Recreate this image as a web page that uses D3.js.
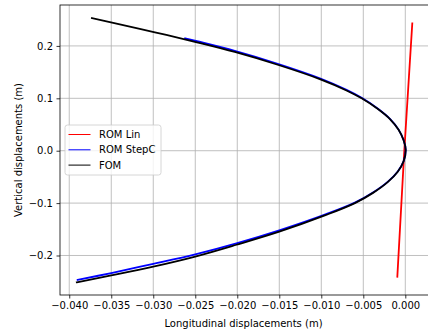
<!DOCTYPE html>
<html>
<head>
<meta charset="utf-8">
<script src="https://cdn.jsdelivr.net/npm/d3@7"></script>
<style>
  body { margin: 0; background: #fff; }
  text { font-family: "DejaVu Sans", sans-serif; }
</style>
</head>
<body>
<svg id="chart" width="428" height="334"></svg>
<script>
// ---- Data ----
const seriesNames = ["ROM Lin", "ROM StepC", "FOM"];
const seriesColors = ["#ff0000", "#0000ff", "#000000"];

// ROM Lin (longitudinal x, vertical y)
const romLinX = [-0.00095, -0.00012, 0.00083];
const romLinY = [-0.2405, 0.0, 0.2430];

// ROM StepC
const romStepX = [-0.0262, -0.0248, -0.0203, -0.0151, -0.0101, -0.0070, -0.0052, -0.0033, -0.0018, -0.0008, -0.0002, 0.00005,
                  -0.0002, -0.0009, -0.0021, -0.0038, -0.0060, -0.0095, -0.0150, -0.0201, -0.0250, -0.0300, -0.0350, -0.0390];
const romStepY = [0.2145, 0.2090, 0.1905, 0.1655, 0.1378, 0.1162, 0.1010, 0.0807, 0.0605, 0.0402, 0.0200, 0.0013,
                  -0.0198, -0.0396, -0.0594, -0.0792, -0.0990, -0.1215, -0.1520, -0.1768, -0.1978, -0.2160, -0.2335, -0.2466];

// FOM
const fomX = [-0.0373, -0.0349, -0.0298, -0.0248, -0.0203, -0.0151, -0.0101, -0.0070, -0.0052, -0.0033, -0.0018, -0.0008, -0.0002, 0.00005,
              -0.0002, -0.0009, -0.0021, -0.0038, -0.0060, -0.0095, -0.0150, -0.0201, -0.0250, -0.0300, -0.0350, -0.0391];
const fomY = [0.2532, 0.2443, 0.2260, 0.2069, 0.1885, 0.1636, 0.1362, 0.1150, 0.1000, 0.0800, 0.0600, 0.0400, 0.0200, 0.0013,
              -0.0200, -0.0400, -0.0600, -0.0800, -0.1000, -0.1230, -0.1545, -0.1795, -0.2020, -0.2212, -0.2380, -0.2511];

const xTicks = [-0.040, -0.035, -0.030, -0.025, -0.020, -0.015, -0.010, -0.005, 0.000];
const yTicks = [-0.2, -0.1, 0.0, 0.1, 0.2];
const xDomain = [-0.0411, 0.00282];
const yDomain = [-0.2754, 0.2781];

const xLabel = "Longitudinal displacements (m)";
const yLabel = "Vertical displacements (m)";

// ---- Layout ----
const pLeft = 60, pRight = 429, pTop = 5, pBottom = 295;
const svg = d3.select("#chart");

const x = d3.scaleLinear().domain(xDomain).range([pLeft, pRight]);
const y = d3.scaleLinear().domain(yDomain).range([pBottom, pTop]);

const fmtMinus = s => s.replace("-", "\u2212");

// grid
const grid = svg.append("g").attr("stroke", "#b0b0b0").attr("stroke-width", 0.8);
xTicks.forEach(t => grid.append("line")
  .attr("x1", x(t)).attr("x2", x(t)).attr("y1", pTop).attr("y2", pBottom));
yTicks.forEach(t => grid.append("line")
  .attr("x1", pLeft).attr("x2", pRight).attr("y1", y(t)).attr("y2", y(t)));

// clip
svg.append("clipPath").attr("id", "clip").append("rect")
  .attr("x", pLeft).attr("y", pTop).attr("width", pRight - pLeft).attr("height", pBottom - pTop);

const line = d3.line().x(d => x(d[0])).y(d => y(d[1])).curve(d3.curveCatmullRom.alpha(0.5));
const lineStraight = d3.line().x(d => x(d[0])).y(d => y(d[1]));

const data = [
  d3.zip(romLinX, romLinY),
  d3.zip(romStepX, romStepY),
  d3.zip(fomX, fomY)
];

const plot = svg.append("g").attr("clip-path", "url(#clip)");
data.forEach((pts, i) => {
  plot.append("path")
    .attr("d", i === 0 ? lineStraight(pts) : line(pts))
    .attr("fill", "none")
    .attr("stroke", seriesColors[i])
    .attr("stroke-width", 1.8)
    .attr("stroke-linejoin", "round")
    .attr("stroke-linecap", "square");
});

// axes
const xAxis = d3.axisBottom(x).tickValues(xTicks).tickSize(3.5).tickPadding(3.5)
  .tickFormat(d => fmtMinus(d3.format(".3f")(d)));
const yAxis = d3.axisLeft(y).tickValues(yTicks).tickSize(3.5).tickPadding(3.5)
  .tickFormat(d => fmtMinus(d3.format(".1f")(d)));

const gx = svg.append("g").attr("transform", `translate(0,${pBottom})`).call(xAxis);
const gy = svg.append("g").attr("transform", `translate(${pLeft},0)`).call(yAxis);
[gx, gy].forEach(g => {
  g.select(".domain").remove();
  g.selectAll(".tick line").attr("stroke", "#000").attr("stroke-width", 0.8);
  g.selectAll(".tick text").attr("font-size", 10).attr("fill", "#000")
    .attr("font-family", "DejaVu Sans, sans-serif");
});

// spines
svg.append("rect").attr("x", pLeft).attr("y", pTop)
  .attr("width", pRight - pLeft).attr("height", pBottom - pTop)
  .attr("fill", "none").attr("stroke", "#000").attr("stroke-width", 0.8);

// labels
svg.append("text").attr("x", (pLeft + 427) / 2).attr("y", 327)
  .attr("text-anchor", "middle").attr("font-size", 10).text(xLabel);
svg.append("text").attr("transform", `translate(22,${(pTop + pBottom) / 2}) rotate(-90)`)
  .attr("text-anchor", "middle").attr("font-size", 10).text(yLabel);

// legend
const lg = svg.append("g").attr("transform", "translate(65,125)");
lg.append("rect").attr("width", 96).attr("height", 50).attr("rx", 2.5)
  .attr("fill", "#fff").attr("fill-opacity", 0.8)
  .attr("stroke", "#cccccc").attr("stroke-width", 0.8);
seriesNames.forEach((n, i) => {
  const cy = 9.5 + i * 15.3;
  lg.append("line").attr("x1", 3.5).attr("x2", 25.5).attr("y1", cy).attr("y2", cy)
    .attr("stroke", seriesColors[i]).attr("stroke-width", 1);
  lg.append("text").attr("x", 34).attr("y", cy).attr("dy", "0.35em")
    .attr("font-size", 10).text(n);
});
</script>
</body>
</html>
